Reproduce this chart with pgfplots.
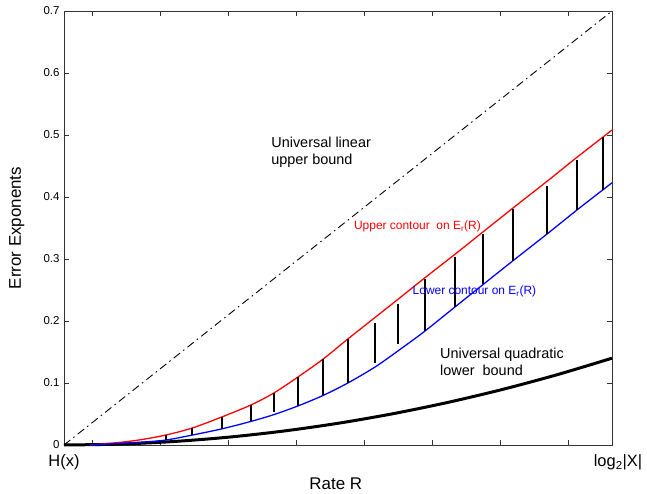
\documentclass[border=0pt]{standalone}
\usepackage{pgfplots}
\pgfplotsset{compat=1.18}
\usepackage{fontspec}
\setmainfont{Liberation Sans}

\begin{document}
\begin{tikzpicture}
\begin{axis}[
  width=548bp, height=434bp, scale only axis,
  xmin=0, xmax=1, ymin=0, ymax=0.7,
  axis line style={black!80, line width=0.8pt},
  tick style={black!80, line width=0.6pt},
  tick align=inside, major tick length=5bp,
  xtick={0.0511,0.1752,0.2993,0.4234,0.5475,0.6715,0.7956,0.9197},
  xticklabels={},
  extra x ticks={0,1},
  extra x tick labels={H(x), \hspace*{12bp}log\textsubscript{2}|X|},
  extra x tick style={major tick length=0pt,
    tick label style={font=\fontsize{16.5}{18}\selectfont, yshift=-6bp}},
  ytick={0,0.1,0.2,0.3,0.4,0.5,0.6,0.7},
  yticklabels={0,0.1,0.2,0.3,0.4,0.5,0.6,0.7},
  y tick label style={font=\fontsize{11.5}{13}\selectfont, xshift=-1bp},
  xlabel={Rate R}, ylabel={Error Exponents},
  label style={font=\fontsize{17}{19}\selectfont},
  xlabel style={at={(axis description cs:0.496,-0.09)}, anchor=center},
  ylabel style={at={(axis description cs:-0.086,0.5)}, anchor=center},
  unbounded coords=jump,
  clip=false,
]
% universal linear upper bound
\addplot[black, line width=0.9pt, dash pattern=on 8bp off 4bp on 1.5bp off 4bp]
  coordinates {(0,0)(1,0.7)};
% universal quadratic lower bound
\addplot[black, line width=3pt, smooth] coordinates {
  (0,0)(0.1,0.0014)(0.2,0.0056)(0.3,0.0126)(0.4,0.0224)(0.5,0.035)
  (0.6,0.0504)(0.7,0.0686)(0.8,0.0896)(0.9,0.1134)(1,0.14)};
% upper contour
\addplot[red, line width=1.3pt, smooth] coordinates {
  (0.047,0)(0.100,0.004)(0.140,0.0085)(0.186,0.0161)(0.234,0.0274)(0.288,0.0452)
  (0.341,0.0645)(0.383,0.0839)(0.427,0.1097)(0.473,0.1387)(0.518,0.171)
  (0.568,0.206)(0.613,0.2375)(0.659,0.270)(0.714,0.308)(0.765,0.344)
  (0.819,0.382)(0.881,0.425)(0.936,0.464)(0.984,0.497)(1.0,0.508)};
% lower contour
\addplot[blue, line width=1.3pt, smooth] coordinates {
  (0.047,0)(0.100,0.0025)(0.140,0.0045)(0.186,0.008)(0.234,0.016)(0.288,0.026)
  (0.341,0.038)(0.383,0.049)(0.427,0.063)(0.473,0.080)(0.518,0.100)
  (0.568,0.126)(0.613,0.154)(0.659,0.184)(0.714,0.223)(0.765,0.259)
  (0.819,0.297)(0.881,0.340)(0.936,0.379)(0.984,0.412)(1.0,0.423)};
% vertical segments between the contours
\addplot[black, line width=1.7pt] coordinates {
  (0.186,0.0161)(0.186,0.008)(0.186,nan)
  (0.234,0.0274)(0.234,0.016)(0.234,nan)
  (0.288,0.0452)(0.288,0.026)(0.288,nan)
  (0.341,0.0645)(0.341,0.038)(0.341,nan)
  (0.383,0.0839)(0.383,0.053)(0.383,nan)
  (0.427,0.1097)(0.427,0.063)(0.427,nan)
  (0.473,0.1387)(0.473,0.080)(0.473,nan)
  (0.518,0.171)(0.518,0.100)(0.518,nan)
  (0.568,0.197)(0.568,0.132)(0.568,nan)
  (0.609,0.227)(0.609,0.163)(0.609,nan)
  (0.659,0.268)(0.659,0.184)(0.659,nan)
  (0.714,0.304)(0.714,0.223)(0.714,nan)
  (0.765,0.340)(0.765,0.259)(0.765,nan)
  (0.819,0.381)(0.819,0.297)(0.819,nan)
  (0.881,0.418)(0.881,0.340)(0.881,nan)
  (0.936,0.460)(0.936,0.379)(0.936,nan)
  (0.984,0.497)(0.984,0.412)};
\node[anchor=west, align=left, inner sep=0pt, font=\fontsize{14.5}{17}\selectfont]
  at (axis cs:0.378,0.4726) {Universal linear\\upper bound};
\node[anchor=west, inner sep=0pt, text=red, font=\fontsize{12}{14}\selectfont]
  at (axis cs:0.529,0.353) {Upper contour\ \ on E\textsubscript{r}(R)};
\node[anchor=west, inner sep=0pt, text=blue, font=\fontsize{12}{14}\selectfont]
  at (axis cs:0.636,0.248) {Lower contour on E\textsubscript{r}(R)};
\node[anchor=west, align=left, inner sep=0pt, font=\fontsize{14.5}{17}\selectfont]
  at (axis cs:0.686,0.134) {Universal quadratic\\lower\ \ bound};
\end{axis}
\path (current axis.south west) ++(-64bp,-48bp) (current axis.north east) ++(35bp,11bp);
\end{tikzpicture}
\end{document}
